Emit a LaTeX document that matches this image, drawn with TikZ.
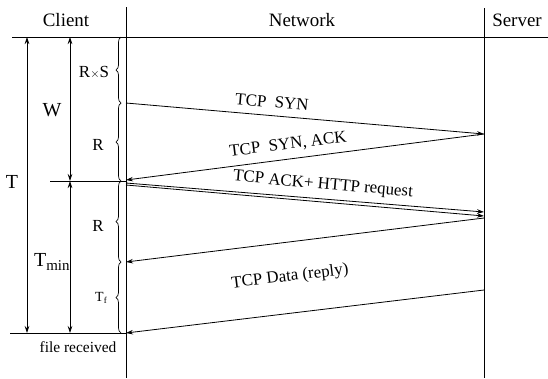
\documentclass[tikz,border=0pt]{standalone}
\usepackage{fontspec}
\setmainfont{Liberation Serif}
\usetikzlibrary{arrows.meta,decorations.pathreplacing}
\begin{document}
\begin{tikzpicture}[x=1bp,y=-1bp,
  ln/.style={line width=0.8bp},
  msg/.style={line width=0.8bp,-{Stealth[length=7bp,width=4.5bp]}},
  dim/.style={line width=0.7bp,{Stealth[length=7bp,width=4.5bp]}-{Stealth[length=7bp,width=4.5bp]}},
  brc/.style={line width=0.7bp,decorate,decoration={brace,amplitude=5bp,mirror}},
  lbl/.style={font=\fontsize{17}{20}\selectfont,inner sep=0pt},
  hdr/.style={font=\fontsize{19}{22}\selectfont,inner sep=0pt},
  sml/.style={font=\fontsize{15.5}{18}\selectfont,inner sep=0pt}]
\useasboundingbox (0,0) rectangle (548,378);
% lifelines
\coordinate (ctop) at (126,7);
\coordinate (cbot) at (126,378);
\coordinate (stop) at (484,8);
\coordinate (sbot) at (484,378);
\draw[ln] (ctop) -- (cbot);
\draw[ln] (stop) -- (sbot);
% headers
\node[hdr] (client) at (66,20) {Client};
\node[hdr] (network) at (302,20) {Network};
\node[hdr] (server) at (517,20) {Server};
% horizontal lines
\coordinate (hl0) at (12,37);
\coordinate (hr0) at (548,37);
\draw[ln] (hl0) -- (hr0);
\coordinate (hl1) at (50,181);
\coordinate (hr1) at (126,181);
\draw[ln] (hl1) -- (hr1);
\coordinate (hl2) at (10,333);
\coordinate (hr2) at (126,333);
\draw[ln] (hl2) -- (hr2);
% message points
\coordinate (c1) at (126,103);
\coordinate (s1) at (484,134);
\coordinate (c2) at (126,180);
\coordinate (c3a) at (126,183);
\coordinate (c3b) at (126,185);
\coordinate (s3a) at (484,212);
\coordinate (s3b) at (484,216);
\coordinate (s4) at (484,218);
\coordinate (c4) at (126,262);
\coordinate (s5) at (484,290);
\coordinate (c5) at (126,333);
\draw[msg] (c1) -- (s1);
\draw[msg] (s1) -- (c2);
\draw[msg] (c3a) -- (s3a);
\draw[msg] (c3b) -- (s3b);
\draw[msg] (s4) -- (c4);
\draw[msg] (s5) -- (c5);
% message labels
\node[lbl,rotate=-5] (m1) at (272,102) {TCP\ \ SYN};
\node[lbl,rotate=7] (m2) at (288,145) {TCP\ \ SYN, ACK};
\node[lbl,rotate=-5] (m3) at (323,185) {TCP ACK+ HTTP request};
\node[lbl,rotate=7] (m4) at (290,277) {TCP Data (reply)};
% braces
\coordinate (b0) at (121,37);
\coordinate (b1) at (121,103);
\coordinate (b2) at (121,181);
\coordinate (b3) at (121,262);
\coordinate (b4) at (121,333);
\draw[brc] (b0) -- (b1);
\draw[brc] (b1) -- (b2);
\draw[brc] (b2) -- (b3);
\draw[brc] (b3) -- (b4);
\node[lbl] (rs) at (94,72) {R{\fontsize{12}{14}\selectfont$\times$}S};
\node[lbl] (r1) at (98,145) {R};
\node[lbl] (r2) at (98,226) {R};
\node[lbl,font=\fontsize{14}{16}\selectfont] (tf) at (101,298) {T\raisebox{-0.4ex}{\fontsize{9}{10}\selectfont f}};
% dimension arrows
\coordinate (ta) at (27,37);
\coordinate (tb) at (27,333);
\draw[dim] (ta) -- (tb);
\node[hdr,font=\fontsize{20}{22}\selectfont] (tl) at (12,182) {T};
\coordinate (wa) at (70,37);
\coordinate (wb) at (70,181);
\draw[dim] (wa) -- (wb);
\node[hdr,font=\fontsize{20}{22}\selectfont] (wl) at (52,110) {W};
\coordinate (tma) at (70,181);
\coordinate (tmb) at (70,333);
\draw[dim] (tma) -- (tmb);
\node[hdr,anchor=west,font=\fontsize{20}{22}\selectfont] (tml) at (34,262) {T\raisebox{-0.5ex}{\fontsize{15}{16}\selectfont min}};
\node[sml] (fr) at (78,347) {file received};
\end{tikzpicture}
\end{document}
